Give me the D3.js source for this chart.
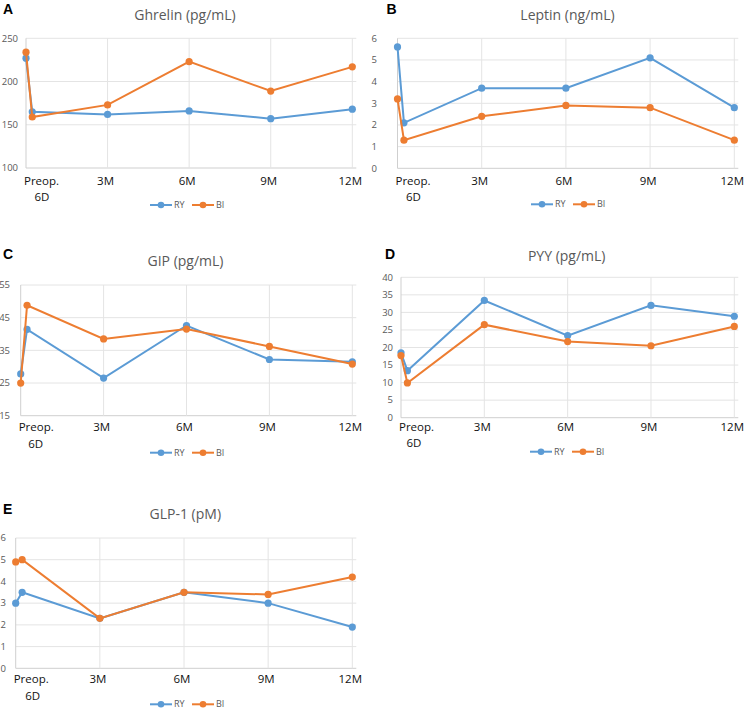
<!DOCTYPE html>
<html>
<head>
<meta charset="utf-8">
<script src="https://cdn.jsdelivr.net/npm/d3@7"></script>
<style>
  html, body { margin: 0; padding: 0; background: #fff; }
  svg { display: block; }
</style>
</head>
<body>
<svg id="chart" width="745" height="709"></svg>
<script>
// ---------- DATA ----------
const months = [0, 0.23, 3, 6, 9, 12];               // Preop, 6D, 3M, 6M, 9M, 12M
const tickMonths = [0, 3, 6, 9, 12];
const tickLabels = ["Preop.", "3M", "6M", "9M", "12M"];
const subLabel = "6D";
const seriesNames = ["RY", "BI"];

const ghrelinRY = [227, 165, 162, 166, 157, 168];
const ghrelinBI = [234, 159, 173, 223, 189, 217];
const leptinRY  = [5.6, 2.1, 3.7, 3.7, 5.1, 2.8];
const leptinBI  = [3.2, 1.3, 2.4, 2.9, 2.8, 1.3];
const gipRY     = [27.8, 41.4, 26.5, 42.6, 32.2, 31.5];
const gipBI     = [25.0, 48.8, 38.5, 41.5, 36.2, 30.8];
const pyyRY     = [18.5, 13.4, 33.4, 23.4, 32.0, 28.9];
const pyyBI     = [17.7, 9.9, 26.5, 21.7, 20.5, 26.0];
const glpRY     = [3.0, 3.5, 2.3, 3.5, 3.0, 1.9];
const glpBI     = [4.9, 5.0, 2.3, 3.5, 3.4, 4.2];

const ghrelinTicks = [100, 150, 200, 250];
const leptinTicks  = [0, 1, 2, 3, 4, 5, 6];
const gipTicks     = [15, 25, 35, 45, 55];
const pyyTicks     = [0, 5, 10, 15, 20, 25, 30, 35, 40];
const glpTicks     = [0, 1, 2, 3, 4, 5, 6];

const titles = ["Ghrelin (pg/mL)", "Leptin (ng/mL)", "GIP (pg/mL)", "PYY (pg/mL)", "GLP-1 (pM)"];
const letters = ["A", "B", "C", "D", "E"];

// ---------- LAYOUT (positions / styles) ----------
const colors = ["#5B9BD5", "#ED7D31"];
const layouts = [
  {x0: 26,    x1: 352.3, yT: 38.3,  yB: 168,   lblR: 18,  letX: 3,     letY: 13.5, titleX: 185,   titleY: 20,    tickDy: 16.5, subDy: 33,   subDx: 16, legDy: 37, legCx: 186},
  {x0: 397.5, x1: 734.3, yT: 38.3,  yB: 168.3, lblR: 377, letX: 386.5, letY: 13.5, titleX: 567.5, titleY: 20,    tickDy: 16.5, subDy: 33,   subDx: 16, legDy: 36, legCx: 567},
  {x0: 20.7,  x1: 352.3, yT: 285,   yB: 415.7, lblR: 10,  letX: 3,     letY: 259,  titleX: 185.5, titleY: 265.5, tickDy: 15.5, subDy: 32,   subDx: 15, legDy: 37, legCx: 186},
  {x0: 401,   x1: 734.3, yT: 277.3, yB: 417.7, lblR: 393, letX: 385,   letY: 259,  titleX: 566.7, titleY: 260.5, tickDy: 13,   subDy: 29.5, subDx: 13, legDy: 34, legCx: 566},
  {x0: 15.7,  x1: 352.3, yT: 538,   yB: 668.3, lblR: 6,   letX: 3,     letY: 513.5, titleX: 185.3, titleY: 519,  tickDy: 15,   subDy: 31.5, subDx: 17, legDy: 36, legCx: 186}
];

const panels = [
  {series: [ghrelinRY, ghrelinBI], ticks: ghrelinTicks},
  {series: [leptinRY, leptinBI],   ticks: leptinTicks},
  {series: [gipRY, gipBI],         ticks: gipTicks},
  {series: [pyyRY, pyyBI],         ticks: pyyTicks},
  {series: [glpRY, glpBI],         ticks: glpTicks}
];

const svg = d3.select("#chart");
const FONT = "'Open Sans', 'Noto Sans', sans-serif";

panels.forEach((p, i) => {
  const L = layouts[i];
  const x = d3.scaleLinear().domain([0, 12]).range([L.x0, L.x1]);
  const y = d3.scaleLinear().domain(d3.extent(p.ticks)).range([L.yB, L.yT]);
  const g = svg.append("g");

  // horizontal gridlines
  g.selectAll("line.hg").data(p.ticks).join("line")
    .attr("x1", L.x0).attr("x2", L.x1 + 4)
    .attr("y1", d => y(d)).attr("y2", d => y(d))
    .attr("stroke", d => d === p.ticks[0] ? "#cfcfcf" : "#e4e4e4").attr("stroke-width", 1);
  // vertical gridlines
  g.selectAll("line.vg").data(tickMonths).join("line")
    .attr("x1", d => x(d)).attr("x2", d => x(d))
    .attr("y1", L.yT).attr("y2", L.yB)
    .attr("stroke", d => d === 0 ? "#cfcfcf" : "#e4e4e4").attr("stroke-width", 1);

  // y tick labels
  g.selectAll("text.yt").data(p.ticks).join("text")
    .attr("x", L.lblR).attr("y", d => y(d)).attr("dy", "0.35em")
    .attr("text-anchor", "end")
    .attr("font-family", FONT).attr("font-size", 9.5).attr("fill", "#595959")
    .text(d => d);

  // x tick labels (first one is two-line: "Preop." / "6D")
  tickMonths.forEach((m, j) => {
    const t = g.append("text")
      .attr("font-family", FONT).attr("font-size", 11.5).attr("fill", "#111");
    if (j === 0) {
      t.attr("x", x(m) - 2).attr("y", L.yB + L.tickDy);
      t.append("tspan").attr("x", x(m) - 2).attr("y", L.yB + L.tickDy)
        .attr("text-anchor", "start").text(tickLabels[j]);
      t.append("tspan").attr("x", x(m) + L.subDx).attr("y", L.yB + L.subDy)
        .attr("text-anchor", "middle").text(subLabel);
    } else {
      t.attr("x", x(m) - 2).attr("y", L.yB + L.tickDy)
        .attr("text-anchor", "middle").text(tickLabels[j]);
    }
  });

  // series lines + markers
  const line = d3.line().x((d, j) => x(months[j])).y(d => y(d));
  p.series.forEach((vals, s) => {
    g.append("path").datum(vals)
      .attr("d", line).attr("fill", "none")
      .attr("stroke", colors[s]).attr("stroke-width", 2);
    g.selectAll(null).data(vals).join("circle")
      .attr("cx", (d, j) => x(months[j])).attr("cy", d => y(d))
      .attr("r", 3.6).attr("fill", colors[s]);
  });

  // title
  g.append("text")
    .attr("x", L.titleX).attr("y", L.titleY)
    .attr("text-anchor", "middle")
    .attr("font-family", FONT).attr("font-size", 14).attr("fill", "#595959")
    .text(titles[i]);
  // panel letter
  g.append("text")
    .attr("x", L.letX).attr("y", L.letY)
    .attr("font-family", "'Liberation Sans', Arial, sans-serif").attr("font-weight", "bold")
    .attr("font-size", 14).attr("fill", "#000")
    .text(letters[i]);

  // legend
  const ly = L.yB + L.legDy;
  const startX = L.legCx - 36;
  seriesNames.forEach((name, s) => {
    const lx = startX + s * 42;
    g.append("line").attr("x1", lx).attr("x2", lx + 22).attr("y1", ly).attr("y2", ly)
      .attr("stroke", colors[s]).attr("stroke-width", 2);
    g.append("circle").attr("cx", lx + 11).attr("cy", ly).attr("r", 3.3).attr("fill", colors[s]);
    g.append("text").attr("x", lx + 24).attr("y", ly).attr("dy", "0.35em")
      .attr("font-family", FONT).attr("font-size", 9).attr("fill", "#595959")
      .text(name);
  });
});
</script>
</body>
</html>
